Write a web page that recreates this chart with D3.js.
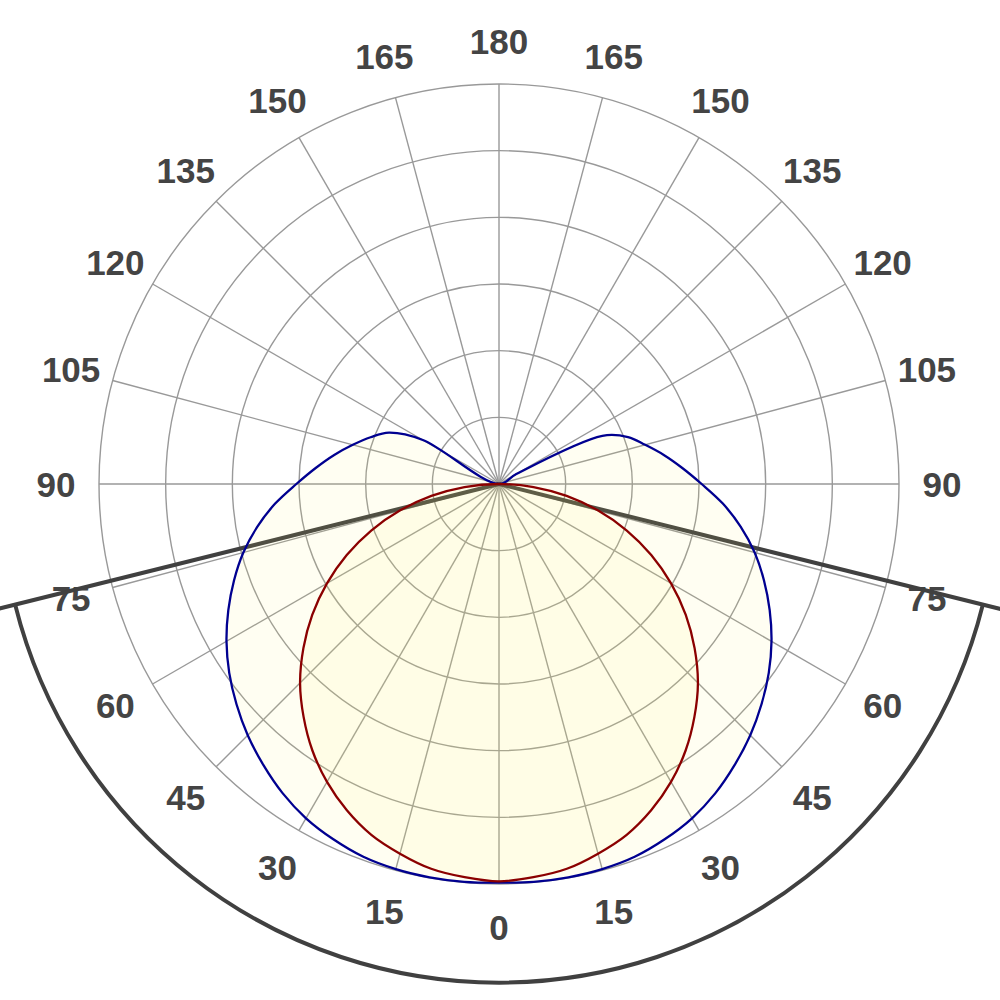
<!DOCTYPE html>
<html>
<head>
<meta charset="utf-8">
<script src="https://cdn.jsdelivr.net/npm/d3@7"></script>
<style>
  html, body { margin: 0; padding: 0; background: #ffffff; }
  svg { display: block; }
</style>
</head>
<body>
<svg id="chart" width="1000" height="1000"></svg>
<script>
// ---- data ----
const angles = [0,5,10,15,20,25,30,35,40,45,50,55,60,65,70,75,80,85,90,
                95,100,105,110,115,120,125,130,135,140,145,150,155,160,165,170,175,180];
const blueLeft  = [598,599,599,598,595,588,579,566,550,533,514,494,472,448,423,397,368,337,304,
                   276,251,227,205,182,132,0,0,0,0,0,0,0,0,0,0,0,0];
const blueRight = [598,599,599,598,595,588,579,566,550,533,514,494,472,448,423,397,368,337,304,
                   276,251,227,206,171,30,0,0,0,0,0,0,0,0,0,0,0,0];
const redAngles = [0,5,10,15,20,25,30,35,40,45,50,55,60,65,70,75,80,85,90];
const redValues = [596,592,586,574,560,540,516,488,456,422,383,342,298,252,204,154,103,52,0];
const ringValues = [100,200,300,400,500,600];
const gridAngles = [0,15,30,45,60,75,90,105,120,135,150,165,180];
const tickLabels = ["0","15","30","45","60","75","90","105","120","135","150","165","180"];
const cutoffAngle = 76;
const cutoffRadius = 748;
const maxValue = 600;

// ---- setup ----
const svg = d3.select("#chart");
const cx = 499, cy = 484;
const R = 400;
const r = d3.scaleLinear().domain([0, maxValue]).range([0, R]);
const toRad = d => d * Math.PI / 180;
// angle in d3 radial convention (0 = up, clockwise); theta measured from downward
const aRight = t => Math.PI - toRad(t);
const aLeft  = t => Math.PI + toRad(t);

const g = svg.append("g").attr("transform", `translate(${cx},${cy})`);

// grid circles
g.append("g").selectAll("circle").data(ringValues).join("circle")
  .attr("r", d => r(d)).attr("fill", "none")
  .attr("stroke", "#999999").attr("stroke-width", 1.4);

// radial grid lines (both sides)
const radials = [];
gridAngles.forEach(t => { radials.push(aRight(t)); if (t > 0 && t < 180) radials.push(aLeft(t)); });
g.append("g").selectAll("line").data(radials).join("line")
  .attr("x1", 0).attr("y1", 0)
  .attr("x2", a => r(maxValue) * Math.sin(a))
  .attr("y2", a => -r(maxValue) * Math.cos(a))
  .attr("stroke", "#999999").attr("stroke-width", 1.4);

// labels
const labelR = 443;
const labels = [];
gridAngles.forEach((t, i) => {
  labels.push({a: aRight(t), txt: tickLabels[i]});
  if (t > 0 && t < 180) labels.push({a: aLeft(t), txt: tickLabels[i]});
});
g.append("g").selectAll("text").data(labels).join("text")
  .attr("x", d => labelR * Math.sin(d.a))
  .attr("y", d => -labelR * Math.cos(d.a))
  .attr("text-anchor", "middle")
  .attr("dominant-baseline", "central")
  .attr("font-family", "'Liberation Sans', Arial, sans-serif")
  .attr("font-weight", "bold")
  .attr("font-size", 35)
  .attr("fill", "#444444")
  .text(d => d.txt);

// cutoff lines and arc
const cutG = g.append("g").attr("stroke", "#404040").attr("stroke-width", 4).attr("fill", "none");
[aRight(cutoffAngle), aLeft(cutoffAngle)].forEach(a => {
  cutG.append("line").attr("x1", 0).attr("y1", 0)
    .attr("x2", 560 * Math.sin(a)).attr("y2", -560 * Math.cos(a));
});
cutG.append("path").attr("d", d3.arc()
  .innerRadius(r(cutoffRadius)).outerRadius(r(cutoffRadius))
  .startAngle(aRight(cutoffAngle)).endAngle(aLeft(cutoffAngle))());

// curves
const line = d3.lineRadial().angle(d => d.a).radius(d => r(d.v)).curve(d3.curveCatmullRomClosed.alpha(0.5));

function buildPts(angs, left, right) {
  const pts = [];
  for (let i = angs.length - 1; i >= 0; i--) pts.push({a: aLeft(angs[i]), v: left[i]});
  for (let i = 1; i < angs.length; i++) pts.push({a: aRight(angs[i]), v: right[i]});
  // collapse repeated points at the centre
  return pts.filter((p, i) => !(p.v === 0 && i > 0 && pts[i - 1].v === 0));
}
let bluePts = buildPts(angles, blueLeft, blueRight);
if (bluePts.length > 1 && bluePts[0].v === 0 && bluePts[bluePts.length - 1].v === 0) bluePts.pop();
const redPts = buildPts(redAngles, redValues, redValues);
if (redPts[redPts.length - 1].v === 0 && redPts[0].v === 0) redPts.pop();

const fillColor = "rgb(255,240,100)";
g.append("path").attr("d", line(bluePts)).attr("fill", fillColor).attr("fill-opacity", 0.085).attr("stroke", "none");
g.append("path").attr("d", line(redPts)).attr("fill", fillColor).attr("fill-opacity", 0.085).attr("stroke", "none");

g.append("path").attr("d", line(bluePts)).attr("fill", "none")
  .attr("stroke", "#000090").attr("stroke-width", 2.3).attr("stroke-linejoin", "round");
g.append("path").attr("d", line(redPts)).attr("fill", "none")
  .attr("stroke", "#8b0000").attr("stroke-width", 2.3).attr("stroke-linejoin", "round");
</script>
</body>
</html>
